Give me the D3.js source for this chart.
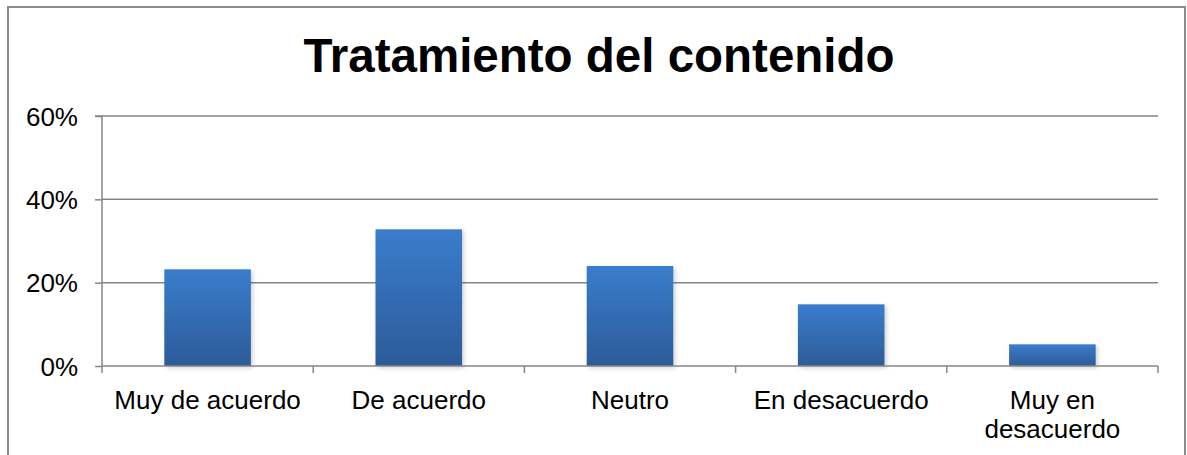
<!DOCTYPE html>
<html><head><meta charset="utf-8">
<script src="https://cdn.jsdelivr.net/npm/d3@7"></script>
<style>body{margin:0;background:#fff}svg{display:block;font-family:"Liberation Sans",Arial,sans-serif}</style>
</head><body><svg id="c" width="1187" height="455"></svg>
<script>
const categories = ["Muy de acuerdo","De acuerdo","Neutro","En desacuerdo","Muy en desacuerdo"];
const values = [0.232, 0.328, 0.240, 0.148, 0.052];
const yTicks = [0, 0.2, 0.4, 0.6];
const title = "Tratamiento del contenido";

const svg = d3.select("#c");
const m = {left:102, right:1158, top:116, bottom:366};
svg.append("rect").attr("x",8).attr("y",7).attr("width",1177).attr("height",460)
  .attr("fill","#fff").attr("stroke","#8c8c8c").attr("stroke-width",2);

const defs = svg.append("defs");
const g = defs.append("linearGradient").attr("id","bg").attr("x1",0).attr("y1",0).attr("x2",0).attr("y2",1);
g.append("stop").attr("offset","0%").attr("stop-color","#3a7dcd");
g.append("stop").attr("offset","100%").attr("stop-color","#2c5b98");
const f = defs.append("filter").attr("id","sh").attr("x","-10%").attr("y","-10%").attr("width","130%").attr("height","130%");
f.append("feDropShadow").attr("dx",2).attr("dy",2).attr("stdDeviation",2).attr("flood-color","#000").attr("flood-opacity",0.18);

const x = d3.scaleBand().domain(categories).range([m.left,m.right]).paddingInner(0.59).paddingOuter(0.295);
const y = d3.scaleLinear().domain([0,0.6]).range([m.bottom,m.top]);

svg.append("text").attr("x",599).attr("y",72).attr("text-anchor","middle")
  .attr("font-size",47.5).attr("font-weight","bold").attr("fill","#000").text(title);

// gridlines
svg.append("g").selectAll("line").data(yTicks.filter(d=>d>0)).join("line")
  .attr("x1",m.left).attr("x2",m.right).attr("y1",d=>y(d)).attr("y2",d=>y(d))
  .attr("stroke","#868686").attr("stroke-width",1.5);

// y axis
const ya = svg.append("g").attr("transform",`translate(${m.left},0)`)
  .call(d3.axisLeft(y).tickValues(yTicks).tickFormat(d3.format(".0%")).tickSize(7).tickPadding(17));
ya.select(".domain").attr("stroke","#868686").attr("stroke-width",1.5).attr("d",`M-7,${m.top}H0V${m.bottom}`);
ya.selectAll(".tick line").attr("stroke","#868686").attr("stroke-width",1.5);
ya.selectAll(".tick text").attr("font-size",26).attr("fill","#000").attr("font-family","Liberation Sans, Arial, sans-serif").attr("dy","0.35em");

// bars
svg.append("g").selectAll("rect").data(values).join("rect")
  .attr("x",(d,i)=>x(categories[i])).attr("width",x.bandwidth())
  .attr("y",d=>y(d)).attr("height",d=>y(0)-y(d))
  .attr("fill","url(#bg)").attr("filter","url(#sh)");

// x axis
svg.append("line").attr("x1",m.left).attr("x2",m.right).attr("y1",y(0)).attr("y2",y(0))
  .attr("stroke","#868686").attr("stroke-width",1.5);
const step = (m.right-m.left)/categories.length;
svg.append("g").selectAll("line").data(d3.range(categories.length+1)).join("line")
  .attr("x1",i=>m.left+i*step).attr("x2",i=>m.left+i*step)
  .attr("y1",y(0)).attr("y2",y(0)+7).attr("stroke","#868686").attr("stroke-width",1.5);

const lab = svg.append("g").selectAll("text").data(categories).join("text")
  .attr("x",d=>x(d)+x.bandwidth()/2).attr("y",409).attr("text-anchor","middle")
  .attr("font-size",26).attr("fill","#000");
lab.each(function(d){
  const t = d3.select(this);
  const lines = d==="Muy en desacuerdo" ? ["Muy en","desacuerdo"] : [d];
  lines.forEach((l,i)=>t.append("tspan").attr("x",x(d)+x.bandwidth()/2).attr("dy",i?28.5:0).text(l));
});
</script></body></html>
